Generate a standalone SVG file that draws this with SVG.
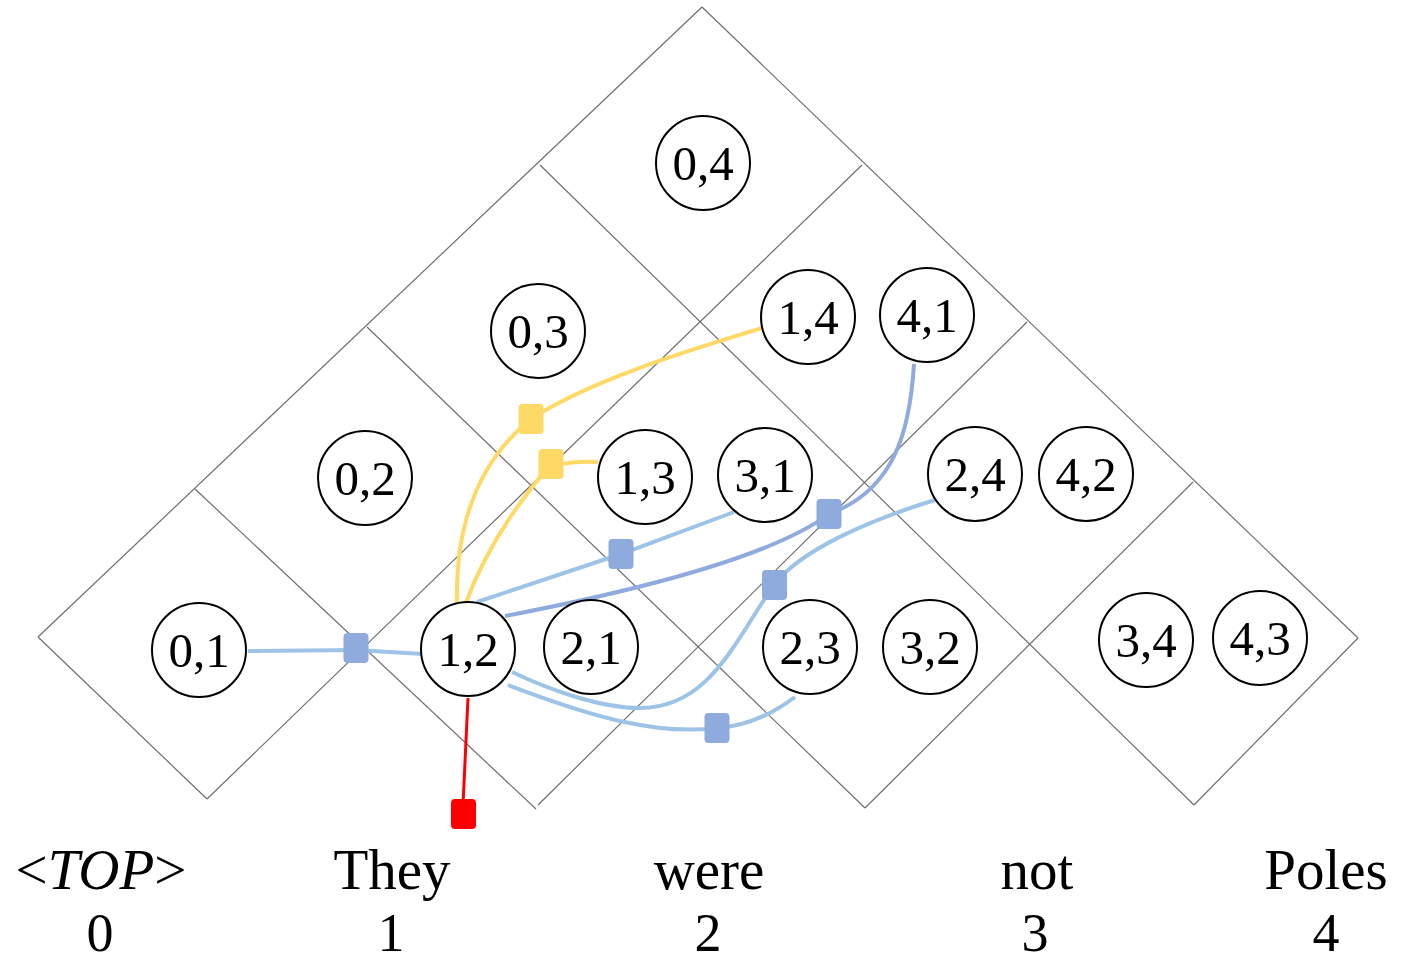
<svg xmlns="http://www.w3.org/2000/svg" width="1413" height="962" viewBox="0 0 1413 962">
<style>
.grid{stroke:#6e6e6e;stroke-width:1.2;fill:none}
.node circle{fill:#fff;stroke:#000;stroke-width:2}
.node text{font-family:"Liberation Serif","Times New Roman",serif;font-size:49px;text-anchor:middle;fill:#000}
.lb{fill:none;stroke:#9DC3E6;stroke-width:4}
.mb{fill:none;stroke:#8FAADC;stroke-width:4}
.yl{fill:none;stroke:#FFD966;stroke-width:4}
.rd{fill:none;stroke:#FF0000;stroke-width:3}
.jb{fill:#8FAADC}
.jy{fill:#FFD966}
.jr{fill:#FF0000}
.word{font-family:"Liberation Serif","Times New Roman",serif;font-size:57px;text-anchor:middle;fill:#000}
.num{font-family:"Liberation Serif","Times New Roman",serif;font-size:54px;text-anchor:middle;fill:#000}
</style>
<rect width="1413" height="962" fill="#fff"/>
<g id="grid">
<line class="grid" x1="38" y1="637" x2="702" y2="7"/>
<line class="grid" x1="207" y1="799" x2="862" y2="165"/>
<line class="grid" x1="538" y1="805" x2="1027" y2="322"/>
<line class="grid" x1="865" y1="808" x2="1193" y2="482"/>
<line class="grid" x1="1194" y1="805" x2="1358" y2="638"/>
<line class="grid" x1="702" y1="7" x2="1358" y2="638"/>
<line class="grid" x1="540" y1="165" x2="1194" y2="805"/>
<line class="grid" x1="367" y1="327" x2="865" y2="808"/>
<line class="grid" x1="195" y1="489" x2="536" y2="809"/>
<line class="grid" x1="38" y1="637" x2="207" y2="799"/>
</g>
<g id="connectors">
<polyline class="lb" points="248,651 356,650 423,654"/>
<path class="yl" d="M762,328 C690,350 590,380 531,419"/>
<path class="yl" d="M531,419 C480,460 455,520 457,604"/>
<path class="yl" d="M598,462 C580,461 565,463 551,466"/>
<path class="yl" d="M551,464 C520,500 485,550 465,605"/>
<polyline class="lb" points="734,512 621,554 477,602"/>
<path class="mb" d="M914,364 C910,430 895,490 829,514"/>
<path class="mb" d="M829,514 C770,558 630,592 505,616"/>
<path class="lb" d="M935,500 C870,520 800,550 774,585"/>
<path class="lb" d="M774,585 C735,640 710,708 640,708 C600,708 550,690 512,672"/>
<path class="lb" d="M795,697 C775,712 750,726 717,728"/>
<path class="lb" d="M717,728 C660,735 600,720 508,685"/>
<line class="rd" x1="468" y1="698" x2="463" y2="805"/>
</g>
<g id="junctions">
<rect id="j0" class="jb" x="343.5" y="633" width="25" height="30" rx="4"/>
<rect id="jy1" class="jy" x="518.5" y="404" width="25" height="30" rx="4"/>
<rect id="jy2" class="jy" x="538.5" y="449" width="25" height="30" rx="4"/>
<rect id="jb1" class="jb" x="608.5" y="539" width="25" height="30" rx="4"/>
<rect id="jb2" class="jb" x="816.5" y="499" width="25" height="30" rx="4"/>
<rect id="jb3" class="jb" x="762" y="570" width="25" height="30" rx="4"/>
<rect id="jb4" class="jb" x="704.5" y="713" width="25" height="30" rx="4"/>
<rect id="jr" class="jr" x="451" y="799" width="25" height="30" rx="4"/>
</g>
<g id="n04" class="node"><circle cx="703" cy="163" r="47"/><text x="703" y="180">0,4</text></g>
<g id="n03" class="node"><circle cx="538" cy="331" r="47"/><text x="538" y="348">0,3</text></g>
<g id="n14" class="node"><circle cx="808" cy="317" r="47"/><text x="808" y="334">1,4</text></g>
<g id="n41" class="node"><circle cx="927" cy="315" r="47"/><text x="927" y="332">4,1</text></g>
<g id="n02" class="node"><circle cx="365" cy="478" r="47"/><text x="365" y="495">0,2</text></g>
<g id="n13" class="node"><circle cx="645" cy="477" r="47"/><text x="645" y="494">1,3</text></g>
<g id="n31" class="node"><circle cx="765" cy="475" r="47"/><text x="765" y="492">3,1</text></g>
<g id="n24" class="node"><circle cx="975" cy="474" r="47"/><text x="975" y="491">2,4</text></g>
<g id="n42" class="node"><circle cx="1086" cy="474" r="47"/><text x="1086" y="491">4,2</text></g>
<g id="n01" class="node"><circle cx="199" cy="650" r="47"/><text x="199" y="667">0,1</text></g>
<g id="n12" class="node"><circle cx="468" cy="649" r="47"/><text x="468" y="666">1,2</text></g>
<g id="n21" class="node"><circle cx="591" cy="647" r="47"/><text x="591" y="664">2,1</text></g>
<g id="n23" class="node"><circle cx="810" cy="647" r="47"/><text x="810" y="664">2,3</text></g>
<g id="n32" class="node"><circle cx="930" cy="647" r="47"/><text x="930" y="664">3,2</text></g>
<g id="n34" class="node"><circle cx="1146" cy="640" r="47"/><text x="1146" y="657">3,4</text></g>
<g id="n43" class="node"><circle cx="1260" cy="638" r="47"/><text x="1260" y="655">4,3</text></g>
<g id="words">
<text class="word" x="101" y="889">&lt;<tspan font-style="italic">TOP</tspan>&gt;</text>
<text class="word" x="392" y="889">They</text>
<text class="word" x="709" y="889">were</text>
<text class="word" x="1037" y="889">not</text>
<text class="word" x="1326" y="889">Poles</text>
<text class="num" x="100" y="951">0</text>
<text class="num" x="391" y="951">1</text>
<text class="num" x="708" y="951">2</text>
<text class="num" x="1035" y="951">3</text>
<text class="num" x="1326" y="951">4</text>
</g>
</svg>
